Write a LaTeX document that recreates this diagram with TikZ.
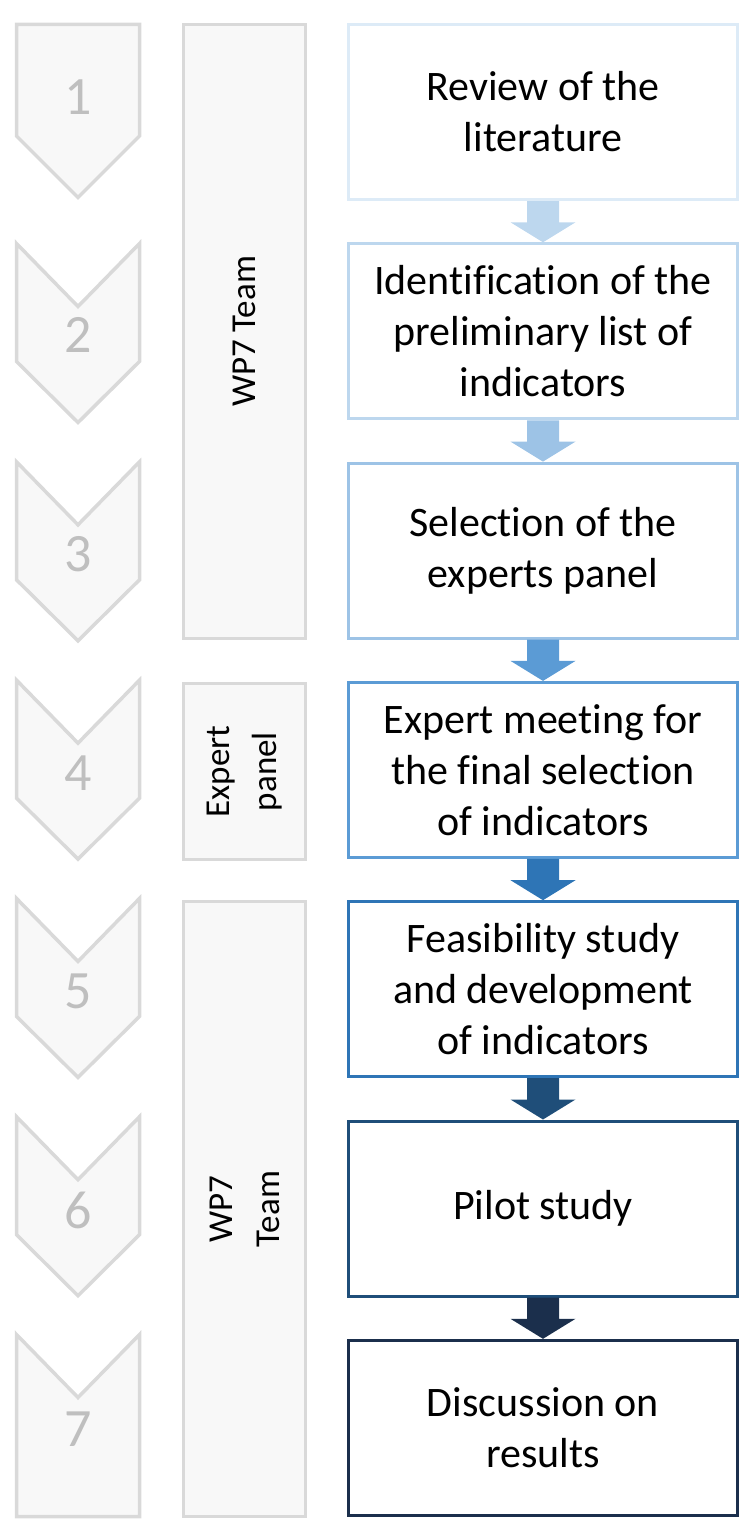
\documentclass[tikz,border=0pt]{standalone}
\usepackage{fontspec}
\setmainfont[Ligatures=NoCommon]{Carlito}
\usetikzlibrary{calc}
\definecolor{c1}{HTML}{DDEBF7}
\definecolor{c2}{HTML}{BDD7EE}
\definecolor{c3}{HTML}{9DC3E6}
\definecolor{c4}{HTML}{5B9BD5}
\definecolor{c5}{HTML}{2E75B6}
\definecolor{c6}{HTML}{1F4E79}
\definecolor{c7}{HTML}{1B2F4C}
\definecolor{gline}{HTML}{D9D9D9}
\definecolor{gfill}{HTML}{F8F8F8}
\definecolor{gnum}{HTML}{BFBFBF}
\tikzset{
  stepbox/.style={draw, fill=white, line width=3pt, minimum width=389pt, minimum height=175pt,
    inner sep=0pt, align=center, font=\fontsize{42}{51}\selectfont},
  rolebox/.style={draw=gline, fill=gfill, line width=3.5pt, minimum width=122pt, inner sep=0pt},
  roletext/.style={rotate=90, align=center, font=\fontsize{35}{47}\selectfont, inner sep=0pt},
  chev/.style={draw=gline, fill=gfill, line width=3.5pt, line join=miter},
  numtext/.style={text=gnum, font=\fontsize{54}{60}\selectfont, inner sep=0pt}
}
\begin{document}
\begin{tikzpicture}[x=1pt,y=-1pt]
\useasboundingbox (0,0) rectangle (753,1536);
% chevrons
\draw[chev] (16.5,24.5) -- (139.5,24.5) -- (139.5,136) -- (78,197.5) -- (16.5,136) -- cycle;
\foreach \k in {2,...,6}{
  \pgfmathsetmacro{\t}{243.5+218.3*(\k-2)}
  \draw[chev] (16.5,\t) -- (78,\t+63) -- (139.5,\t) -- (139.5,\t+118) -- (78,\t+179) -- (16.5,\t+118) -- cycle;
}
\draw[chev] (16.5,1334.5) -- (78,1397.5) -- (139.5,1334.5) -- (139.5,1516.5) -- (16.5,1516.5) -- cycle;
\node[numtext] (n1) at (78,97.5) {1};
\foreach \k in {2,...,7}{
  \pgfmathsetmacro{\t}{335+218.9*(\k-2)}
  \node[numtext] (n\k) at (78,\t) {\k};
}
% role boxes
\node[rolebox, minimum height=614pt] (r1) at (244.5,331.5) {};
\node[roletext] (t1) at (r1.center) {WP7 Team};
\node[rolebox, minimum height=176pt] (r2) at (244.5,771.5) {};
\node[roletext] (t2) at (r2.center) {Expert\\panel};
\node[rolebox, minimum height=615pt] (r3) at (244.5,1209) {};
\node[roletext] (t3) at (r3.center) {WP7\\Team};
% step boxes
\node[stepbox, draw=c1] (b1) at (543,112) {Review of the\\literature};
\node[stepbox, draw=c2] (b2) at (543,331.3) {Identification of the\\preliminary list of\\indicators};
\node[stepbox, draw=c3] (b3) at (543,550.6) {Selection of the\\experts panel};
\node[stepbox, draw=c4] (b4) at (543,769.9) {Expert meeting for\\the final selection\\of indicators};
\node[stepbox, draw=c5] (b5) at (543,989.2) {Feasibility study\\and development\\of indicators};
\node[stepbox, draw=c6] (b6) at (543,1208.5) {Pilot study};
\node[stepbox, draw=c7] (b7) at (543,1427.8) {Discussion on\\results};
% block arrows
\foreach \i/\j in {1/2,2/3,3/4,4/5,5/6,6/7}{
  \fill[c\j] ($(b\i.south)+(-16,0)$) -- ($(b\j.north)+(-16,-20)$) -- ($(b\j.north)+(-32.5,-20)$)
    -- (b\j.north) -- ($(b\j.north)+(32.5,-20)$) -- ($(b\j.north)+(16,-20)$) -- ($(b\i.south)+(16,0)$) -- cycle;
}
\end{tikzpicture}
\end{document}
